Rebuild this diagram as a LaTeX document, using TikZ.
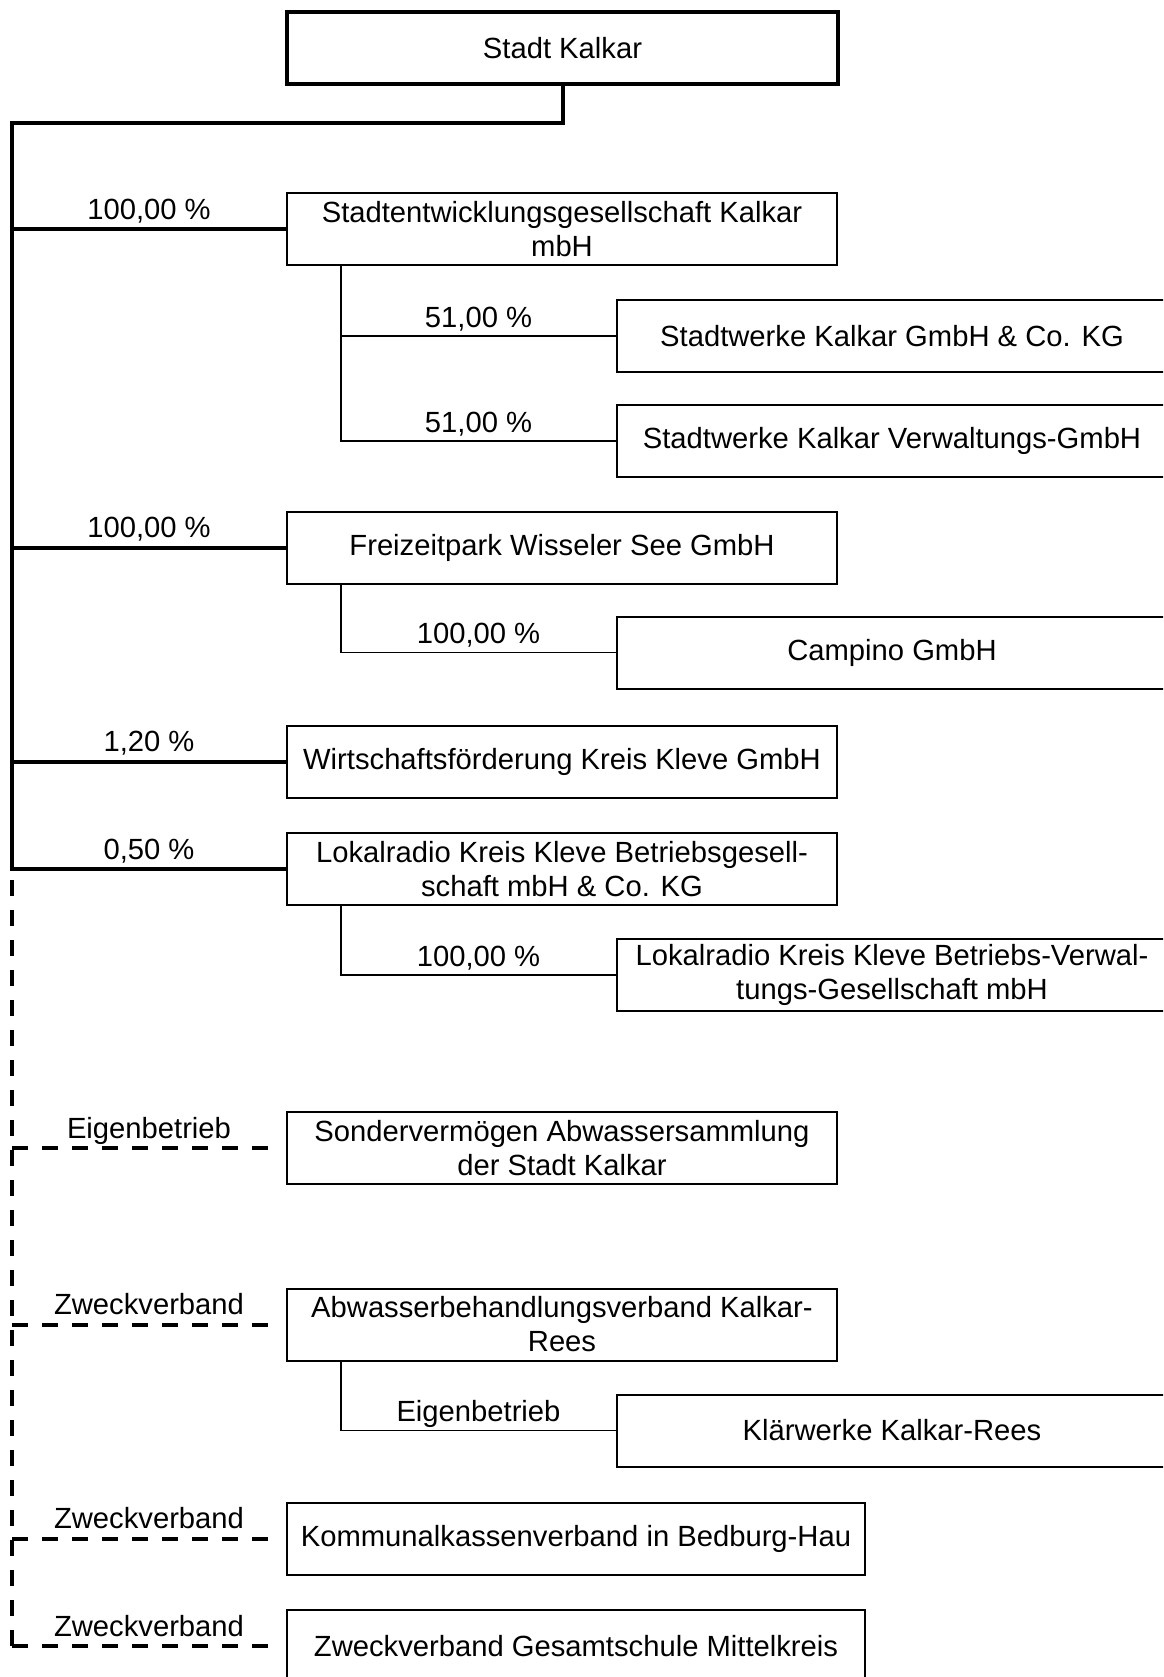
\documentclass[tikz,border=0pt]{standalone}
\usepackage{fontspec}
\setmainfont{Liberation Sans}
\usepackage{tikz}

\begin{document}
\begin{tikzpicture}[
    x=1pt, y=-1pt,
    every node/.style={color=black, font=\fontsize{29.2}{34}\selectfont},
    box/.style={draw, rectangle, line width=2pt, align=center, inner sep=0pt,
                minimum width=550pt, minimum height=72pt},
    main line/.style={line width=4pt},
    sub line/.style={line width=1.5pt},
    dashed line/.style={line width=4pt, dash pattern=on 16pt off 14pt},
    share/.style={above=8pt, inner sep=0pt, text depth=0pt}
    ]

    % page
    \useasboundingbox (0,0) rectangle (1163,1677);
    \clip (0,0) rectangle (1163,1677);
    % parent
    \node[box, line width=4pt, minimum width=551pt] (kalkar) at (562.5,48) {Stadt Kalkar};
    % holdings
    \node[box] (seg) at (562,229.5) {Stadtentwicklungsgesellschaft Kalkar\\mbH};
    \node[box] (swkg) at (892,336) {Stadtwerke Kalkar GmbH \& Co. KG};
    \node[box] (swverw) at (892,441) {Stadtwerke Kalkar Verwaltungs-GmbH};
    \node[box] (frei) at (562,547.5) {Freizeitpark Wisseler See GmbH};
    \node[box] (campino) at (892,652.5) {Campino GmbH};
    \node[box] (wfg) at (562,761.5) {Wirtschaftsförderung Kreis Kleve GmbH};
    \node[box] (lokal) at (562,869) {Lokalradio Kreis Kleve Betriebsgesell-\\schaft mbH \& Co. KG};
    \node[box] (lokalverw) at (892,975) {Lokalradio Kreis Kleve Betriebs-Verwal-\\tungs-Gesellschaft mbH};
    % eigenbetriebe, zweckverbaende
    \node[box] (sonder) at (562,1148) {Sondervermögen Abwassersammlung\\der Stadt Kalkar};
    \node[box] (abwasser) at (562,1324.5) {Abwasserbehandlungsverband Kalkar-\\Rees};
    \node[box] (klaer) at (892,1430.5) {Klärwerke Kalkar-Rees};
    \node[box, minimum width=578pt] (kommunal) at (576,1538.5) {Kommunalkassenverband in Bedburg-Hau};
    \node[box, minimum width=578pt] (gesamt) at (576,1646) {Zweckverband Gesamtschule Mittelkreis};

    % trunk
    \coordinate (trunk) at (12,123);
    \draw[main line] (kalkar.south) |- (trunk) |- node[pos=0.75, share] (plokal) {0,50 \%} (lokal.west);
    \draw[main line] (trunk |- seg.west) -- node[share] (pseg) {100,00 \%} (seg.west);
    \draw[main line] (trunk |- frei.west) -- node[share] (pfrei) {100,00 \%} (frei.west);
    \draw[main line] (trunk |- wfg.west) -- node[share] (pwfg) {1,20 \%} (wfg.west);
    % dashed part
    \draw[dashed line, dash phase=19pt] (trunk |- lokal.west) -- (trunk |- gesamt.west);
    \draw[dashed line, shorten >=15pt] (trunk |- sonder.west) -- node[share] (psonder) {Eigenbetrieb} (sonder.west);
    \draw[dashed line, shorten >=15pt] (trunk |- abwasser.west) -- node[share] (pabwasser) {Zweckverband} (abwasser.west);
    \draw[dashed line, shorten >=15pt] (trunk |- kommunal.west) -- node[share] (pkommunal) {Zweckverband} (kommunal.west);
    \draw[dashed line, shorten >=15pt] (trunk |- gesamt.west) -- node[share] (pgesamt) {Zweckverband} (gesamt.west);
    % sub holdings
    \draw[sub line] ([xshift=55pt]seg.south west) |- node[pos=0.75, share] (pswkg) {51,00 \%} (swkg.west);
    \draw[sub line] ([xshift=55pt]seg.south west) |- node[pos=0.75, share] (pswverw) {51,00 \%} (swverw.west);
    \draw[sub line] ([xshift=55pt]frei.south west) |- node[pos=0.75, share] (pcampino) {100,00 \%} (campino.west);
    \draw[sub line] ([xshift=55pt]lokal.south west) |- node[pos=0.75, share] (plokalverw) {100,00 \%} (lokalverw.west);
    \draw[sub line] ([xshift=55pt]abwasser.south west) |- node[pos=0.75, share] (pklaer) {Eigenbetrieb} (klaer.west);
\end{tikzpicture}
\end{document}
